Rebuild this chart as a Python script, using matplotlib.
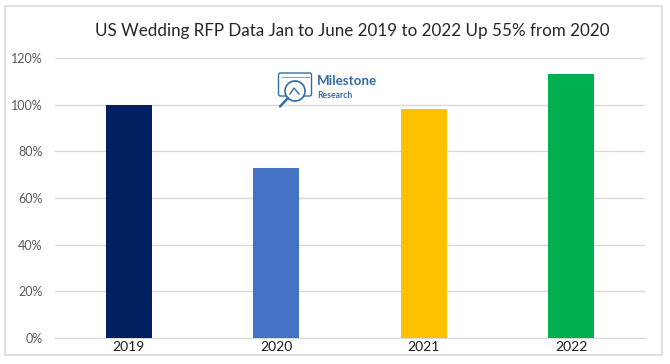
import matplotlib
matplotlib.use("Agg")
import matplotlib.pyplot as plt
from matplotlib.patches import Rectangle, FancyBboxPatch, Circle
from matplotlib.ticker import PercentFormatter

plt.rcParams['font.family'] = ['Lato', 'DejaVu Sans']

years = ['2019', '2020', '2021', '2022']
values = [100, 73, 98, 113]
colors = ['#002060', '#4472C4', '#FFC000', '#00B050']
y_ticks = [0, 20, 40, 60, 80, 100, 120]
title = 'US Wedding RFP Data Jan to June 2019 to 2022 Up 55% from 2020'

W, H = 670, 364
fig = plt.figure(figsize=(W / 100, H / 100), dpi=100, facecolor='white')

# outer chart frame and logo live on a pixel-coordinate overlay
bg = fig.add_axes([0, 0, 1, 1], zorder=0)
bg.set_xlim(0, W)
bg.set_ylim(H, 0)
bg.axis('off')
bg.add_patch(Rectangle((4.5, 5.5), 657, 349, fc='white', ec='#D9D9D9', lw=1.2))

ax = fig.add_axes([55 / W, (H - 338) / H, 590 / W, 280 / H], zorder=1)
ax.patch.set_alpha(0)
ax.bar(years, values, width=0.312, color=colors, zorder=3)
ax.set_xlim(-0.5, 3.5)
ax.set_ylim(0, 120)
ax.set_yticks(y_ticks)
ax.yaxis.set_major_formatter(PercentFormatter(decimals=0))
ax.grid(axis='y', color='#D9D9D9', lw=1)
ax.set_axisbelow(True)
for s in ax.spines.values():
    s.set_visible(False)
ax.spines['bottom'].set_visible(True)
ax.spines['bottom'].set_color('#D9D9D9')
ax.tick_params(axis='y', length=0, labelsize=9, labelcolor='#595959', pad=9)
ax.tick_params(axis='x', length=0, labelsize=10, labelcolor='#1a1a1a', pad=2)

bg.text(352, 31, title, fontsize=12.25, color='#262626', ha='center', va='center')

# logo
logo = fig.add_axes([0, 0, 1, 1], zorder=2)
logo.set_xlim(0, W)
logo.set_ylim(H, 0)
logo.axis('off')
blue = '#2E6DA8'
logo.add_patch(FancyBboxPatch((278.5, 73), 33, 23, boxstyle='round,pad=0,rounding_size=2',
                              fc='white', ec=blue, lw=1))
logo.plot([282, 309], [76.5, 76.5], color=blue, lw=0.8, alpha=0.6)
logo.add_patch(Circle((295, 91), 10, fc='white', ec=blue, lw=1.2))
logo.plot([288, 280], [98, 106.5], color=blue, lw=1.8, solid_capstyle='round')
logo.plot([290, 294, 299], [94, 88, 94], color=blue, lw=1)
logo.text(316.5, 81, 'Milestone', fontsize=9.6, color=blue, fontweight='bold', ha='left', va='center')
logo.text(317, 95.5, 'Research', fontsize=6.2, color=blue, fontweight='bold', ha='left', va='center')

fig.savefig('out.png', dpi=100, facecolor='white')
